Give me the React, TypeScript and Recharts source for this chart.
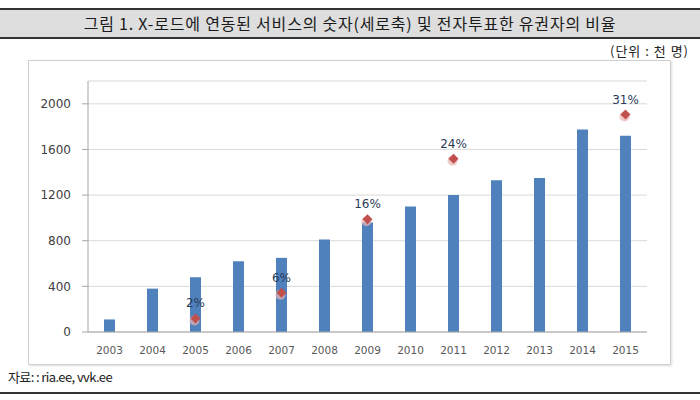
import React from "react"
import { ComposedChart, Bar, Line, XAxis, YAxis, CartesianGrid, LabelList } from "recharts"

// X-road linked services (thousands) and share of voters who voted online
const years = ["2003", "2004", "2005", "2006", "2007", "2008", "2009", "2010", "2011", "2012", "2013", "2014", "2015"]
const services = [110, 380, 480, 620, 650, 810, 960, 1100, 1200, 1330, 1350, 1775, 1720]
const eVoteShare = [null, null, 1.9, null, 5.5, null, 15.8, null, 24.3, null, null, null, 30.5]
const countTicks = [0, 400, 800, 1200, 1600, 2000]

const data = years.map((year, i) => ({ year, services: services[i], share: eVoteShare[i] }))
const edgeTicks = years.map((_, i) => i).concat(years.length)

const GRAY = "#a6a6a6"

function Marker(props: any) {
  const { cx, cy, index } = props
  if (cy == null || cx == null || isNaN(cy)) return null
  const r = 5
  return (
    <g key={"m" + index}>
      <circle cx={cx - 1} cy={cy + 2} r={5} fill="#e9b3b3" opacity={0.7} />
      <polygon
        points={`${cx},${cy - r} ${cx + r},${cy} ${cx},${cy + r} ${cx - r},${cy}`}
        fill="#c0504d"
      />
    </g>
  )
}

export default function App() {
  return (
    <div style={{ position: "absolute", left: 0, top: 0, width: 700, height: 400, background: "#fff", fontFamily: "'Noto Sans CJK KR', sans-serif" }}>
      <div style={{ position: "absolute", left: 0, top: 8, width: 700, height: 27, background: "#dedede", borderTop: "2px solid #333", borderBottom: "2px solid #333" }} />
      <div style={{ position: "absolute", left: 0, top: 10, width: 700, height: 27, lineHeight: "27px", textAlign: "center", fontSize: 16, letterSpacing: 0.8, color: "#1a1a1a" }}>
        그림 1. X-로드에 연동된 서비스의 숫자(세로축) 및 전자투표한 유권자의 비율
      </div>
      <div style={{ position: "absolute", right: 11, top: 41, fontSize: 13, letterSpacing: 1, color: "#222" }}>(단위 : 천 명)</div>

      <div style={{ position: "absolute", left: 28, top: 60, width: 641, height: 303, border: "1px solid #cfcfcf", boxShadow: "1px 1px 2px #ddd" }}>
        <ComposedChart width={642} height={304} data={data} margin={{ top: 20, right: 24, left: 0, bottom: 0 }}>
          <CartesianGrid vertical={false} stroke="#d9d9d9" />
          <XAxis
            xAxisId="edges"
            type="number"
            domain={[0, years.length]}
            ticks={edgeTicks}
            height={0}
            tick={false}
            tickSize={4}
            tickLine={{ stroke: GRAY }}
            axisLine={false}
          />
          <XAxis
            dataKey="year"
            height={33}
            tickLine={false}
            tickSize={0}
            tickMargin={15}
            axisLine={{ stroke: GRAY }}
            tick={{ fontSize: 10.5, fill: "#595959", fontFamily: "DejaVu Sans" }}
          />
          <XAxis xAxisId="top" dataKey="year" orientation="top" height={0} tick={false} tickLine={false} axisLine={{ stroke: GRAY }} />
          <YAxis
            domain={[0, 2200]}
            ticks={countTicks}
            width={59}
            tickSize={6}
            tickMargin={11}
            tickLine={{ stroke: GRAY }}
            axisLine={{ stroke: GRAY }}
            tick={{ fontSize: 12, fill: "#404040", fontFamily: "DejaVu Sans" }}
          />
          <YAxis yAxisId="pct" orientation="right" domain={[0, 35.2]} width={0} tick={false} tickLine={false} axisLine={{ stroke: GRAY }} />
          <Bar dataKey="services" fill="#4f81bd" barSize={11} isAnimationActive={false} />
          <Line
            yAxisId="pct"
            dataKey="share"
            stroke="none"
            dot={<Marker />}
            activeDot={false}
            isAnimationActive={false}
          >
            <LabelList
              dataKey="share"
              position="top"
              offset={11}
              formatter={(v: any) => (v == null ? "" : Math.round(v) + "%")}
              style={{ fontSize: 12, fill: "#2b3a55", fontFamily: "DejaVu Sans" }}
            />
          </Line>
        </ComposedChart>
      </div>

      <div style={{ position: "absolute", left: 8, top: 367, fontSize: 13, letterSpacing: -0.6, color: "#222" }}>자료: : ria.ee, vvk.ee</div>
      <div style={{ position: "absolute", left: 0, top: 392, width: 700, height: 2, background: "#333" }} />
    </div>
  )
}
